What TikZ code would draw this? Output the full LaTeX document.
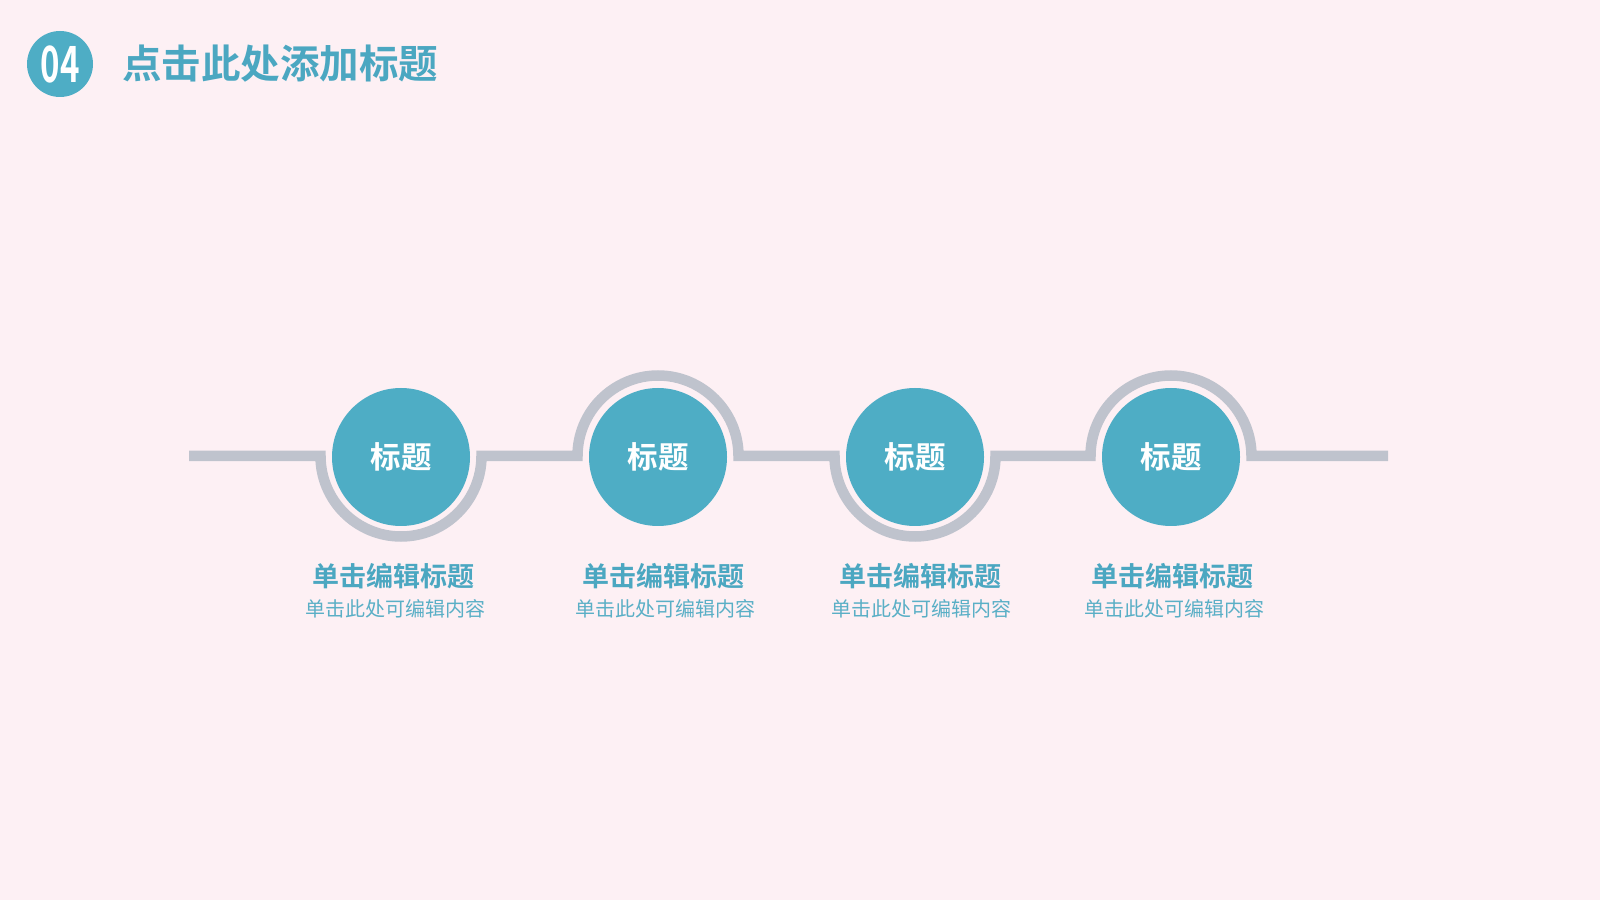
\documentclass[tikz,border=0pt]{standalone}
\usepackage{fontspec}
\newfontfamily\cjk{Noto Sans CJK SC}
\newfontfamily\cjkb{Noto Sans CJK SC Bold}
\definecolor{bgpink}{HTML}{FDF0F4}
\definecolor{teal}{HTML}{4EADC5}
\definecolor{tealtext}{HTML}{4BA7C1}
\definecolor{subtext}{HTML}{5AAFC6}
\definecolor{track}{HTML}{BFC3CD}
\tikzset{
  dot/.style={circle, fill=teal, minimum size=138pt, inner sep=0pt, text=white, font=\cjkb\fontsize{30.5}{30.5}\selectfont},
  ttl/.style={text=tealtext, font=\cjkb\fontsize{27}{27}\selectfont, inner sep=0pt},
  sub/.style={text=subtext, font=\cjk\fontsize{20}{20}\selectfont, inner sep=0pt},
  trackline/.style={draw=track, line width=10.5pt}
}
\begin{document}
\begin{tikzpicture}[x=1pt,y=1pt]
\fill[bgpink] (0,0) rectangle (1600,900);
\useasboundingbox (0,0) rectangle (1600,900);
% header
\node[circle, fill=teal, minimum size=66pt, inner sep=0pt, text=white] (hdr) at (60,836) {\scalebox{0.66}[1]{\cjkb\fontsize{50}{50}\selectfont 04}};
\node[anchor=west, inner sep=0pt, text=tealtext, font=\cjkb\fontsize{39.5}{39.5}\selectfont] (htitle) at (122,836) {点击此处添加标题};
% track
\coordinate (s) at (189,444);
\coordinate (e) at (1388,444);
\draw[trackline] (s) -- (320.5,444) arc (180:360:80.5) -- (577.5,444) arc (180:0:80.5)
  -- (834.5,444) arc (180:360:80.5) -- (1090.5,444) arc (180:0:80.5) -- (e);
% circles
\node[dot] (c1) at (401,443) {标题};
\node[dot] (c2) at (658,443) {标题};
\node[dot] (c3) at (915,443) {标题};
\node[dot] (c4) at (1171,443) {标题};
% labels
\node[ttl] (t1) at (393,324) {单击编辑标题};
\node[ttl] (t2) at (663,324) {单击编辑标题};
\node[ttl] (t3) at (920,324) {单击编辑标题};
\node[ttl] (t4) at (1172,324) {单击编辑标题};
\node[sub] (d1) at (395,291) {单击此处可编辑内容};
\node[sub] (d2) at (665,291) {单击此处可编辑内容};
\node[sub] (d3) at (921,291) {单击此处可编辑内容};
\node[sub] (d4) at (1174,291) {单击此处可编辑内容};
\end{tikzpicture}
\end{document}
